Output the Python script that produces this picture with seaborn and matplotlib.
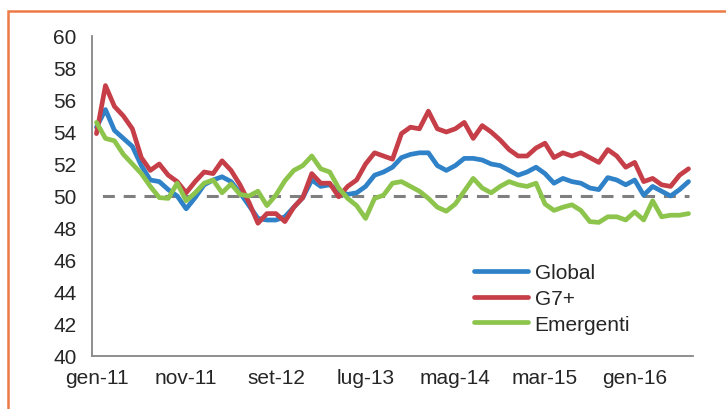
import matplotlib
matplotlib.use("Agg")
import matplotlib.pyplot as plt
import matplotlib.patches as mpatches
from matplotlib.lines import Line2D
import seaborn as sns
import pandas as pd

# monthly PMI, gen-11 .. lug-16
MESI = ["gen", "feb", "mar", "apr", "mag", "giu", "lug", "ago", "set", "ott", "nov", "dic"]
START_YEAR = 11
N_MONTHS = 67

GLOBAL = [54.3, 55.4, 54.1, 53.6, 53.1, 51.9, 51.0, 50.9, 50.4, 50.0,
          49.2, 49.9, 50.7, 51.0, 51.2, 50.9, 50.2, 49.4, 48.6, 48.5,
          48.5, 48.7, 49.3, 49.9, 51.0, 50.6, 50.7, 50.3, 50.1, 50.2,
          50.6, 51.3, 51.5, 51.8, 52.4, 52.6, 52.7, 52.7, 51.9, 51.6,
          51.9, 52.35, 52.35, 52.25, 52.0, 51.9, 51.6, 51.3, 51.5, 51.8,
          51.4, 50.8, 51.1, 50.9, 50.8, 50.5, 50.4, 51.15, 51.0, 50.7,
          51.0, 50.05, 50.6, 50.3, 50.0, 50.4, 50.9]
G7 = [53.9, 56.9, 55.6, 55.0, 54.2, 52.4, 51.6, 52.0, 51.3, 50.9,
      50.2, 50.9, 51.5, 51.4, 52.2, 51.6, 50.7, 49.6, 48.3, 48.9,
      48.9, 48.4, 49.3, 49.9, 51.4, 50.8, 50.8, 49.95, 50.6, 51.0,
      52.0, 52.7, 52.5, 52.3, 53.9, 54.3, 54.2, 55.3, 54.2, 54.0,
      54.2, 54.6, 53.6, 54.4, 54.0, 53.5, 52.9, 52.5, 52.5, 53.0,
      53.3, 52.4, 52.7, 52.5, 52.7, 52.4, 52.1, 52.9, 52.5, 51.8,
      52.1, 50.9, 51.1, 50.7, 50.6, 51.3, 51.7]
EMERGENTI = [54.6, 53.6, 53.45, 52.6, 52.0, 51.4, 50.6, 49.9, 49.85, 50.8,
             49.7, 50.2, 50.8, 51.0, 50.2, 50.75, 50.1, 50.0, 50.3, 49.4,
             50.05, 50.95, 51.6, 51.9, 52.5, 51.7, 51.5, 50.5, 49.85, 49.4,
             48.6, 49.85, 50.05, 50.8, 50.9, 50.6, 50.3, 49.85, 49.3, 49.05,
             49.5, 50.3, 51.1, 50.5, 50.2, 50.6, 50.9, 50.7, 50.6, 50.8,
             49.5, 49.1, 49.3, 49.45, 49.1, 48.4, 48.35, 48.7, 48.7, 48.5,
             49.0, 48.5, 49.7, 48.7, 48.8, 48.8, 48.9]
SERIES = ["Global", "G7+", "Emergenti"]
COLORS = ["#2F82C8", "#C63F48", "#8DC44C"]
SOGLIA = 50

labels = [f"{MESI[i % 12]}-{START_YEAR + i // 12}" for i in range(N_MONTHS)]

df = pd.DataFrame({"Global": GLOBAL, "G7+": G7, "Emergenti": EMERGENTI})
df["t"] = range(N_MONTHS)
long = df.melt(id_vars="t", var_name="serie", value_name="pmi")

sns.set_style("white")
plt.rcParams["font.family"] = ["Liberation Sans", "DejaVu Sans"]

fig = plt.figure(figsize=(7.26, 4.10), dpi=100)
ax = fig.add_axes([92 / 726, 1 - 357 / 410, 601 / 726, 320 / 410])

# threshold line at 50
ax.plot(df["t"], [SOGLIA] * N_MONTHS, color="#7F7F7F", lw=2.2,
        linestyle=(4.7, (3.9, 2.9)), zorder=1)

sns.lineplot(data=long, x="t", y="pmi", hue="serie", hue_order=SERIES,
             palette=COLORS, linewidth=3.4, ax=ax, legend=False, zorder=2)

ax.set_xlim(-0.5, N_MONTHS - 0.5)
ax.set_ylim(40, 60)
ax.set_yticks(range(40, 61, 2))
ticks = list(range(0, N_MONTHS, 10))
ax.set_xticks(ticks)
ax.set_xticklabels([labels[i] for i in ticks])
ax.set_xticks([i - 0.5 for i in ticks], minor=True)
ax.tick_params(axis="x", which="major", length=0, pad=9, labelsize=15)
ax.tick_params(axis="x", which="minor", length=5, width=1.2, color="#868686", direction="out")
ax.tick_params(axis="y", length=5, width=1.2, color="#868686", direction="out", pad=6, labelsize=15)
ax.set_xlabel("")
ax.set_ylabel("")
for side in ["top", "right"]:
    ax.spines[side].set_visible(False)
for side in ["left", "bottom"]:
    ax.spines[side].set_color("#868686")
    ax.spines[side].set_linewidth(1.3)

handles = [Line2D([], [], color=c, lw=3.4) for c in COLORS]
ax.legend(handles, SERIES, loc="upper left", bbox_to_anchor=(0.636, 0.29),
          frameon=False, fontsize=15, handlelength=2.6, handletextpad=0.3,
          labelspacing=0.32, borderpad=0, borderaxespad=0)

# orange frame of the original slide
fig.patches.append(mpatches.Rectangle((8 / 726, -0.1), 1.2, 1.1 - 12 / 410,
                                      transform=fig.transFigure, fill=False,
                                      edgecolor="#EC7A45", lw=1.8))

fig.savefig("out.png", dpi=100)
